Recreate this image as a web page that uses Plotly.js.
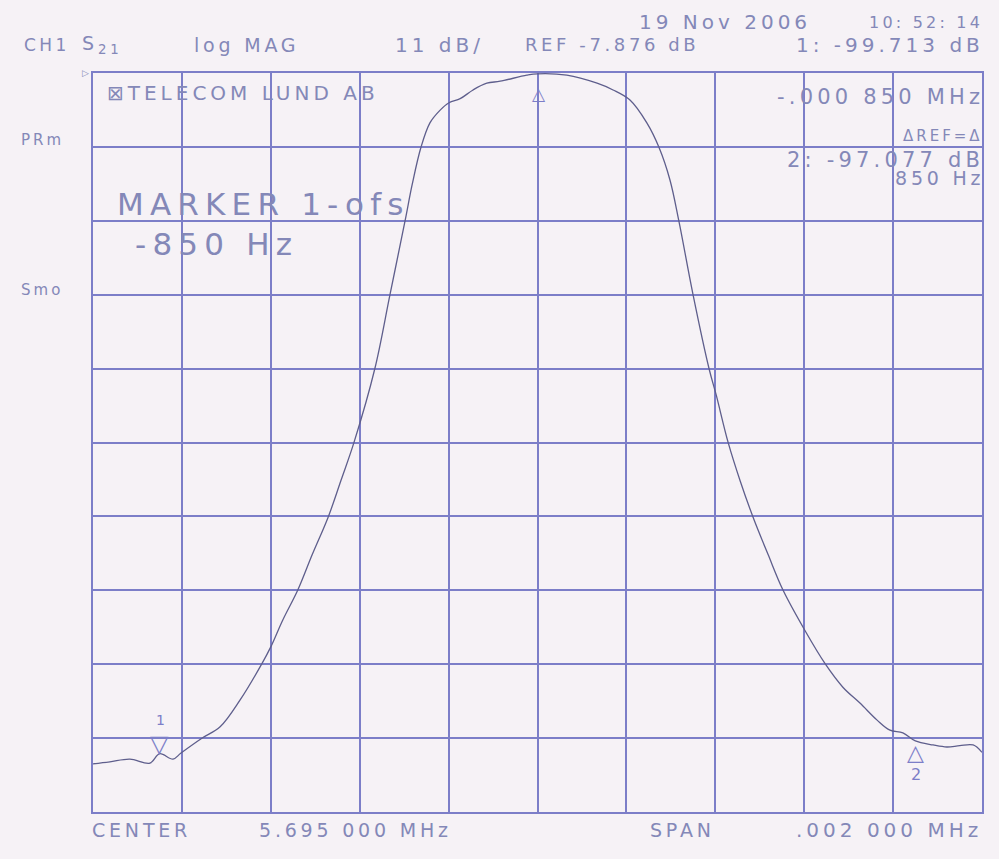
<!DOCTYPE html>
<html>
<head>
<meta charset="utf-8">
<script src="https://cdn.plot.ly/plotly-3.0.1.min.js"></script>
<style>
  html, body { margin: 0; padding: 0; background: #f6f2f6; }
  #chart { width: 999px; height: 859px; }
  text { letter-spacing: 0.2em; }
</style>
</head>
<body>
<div id="chart"></div>
<script>
// Frequency offset from centre (Hz); centre 5.695 000 MHz, span 2 kHz
const freqOffsetHz = [-1000, -962, -917, -872, -850, -820, -802, -755, -714, -669,
  -620, -600, -573, -539, -507, -471, -442, -413, -366, -332,
  -298, -282, -262, -242, -219, -199, -174, -145, -114, -84,
  -24, 0, 66, 134, 170, 208, 246, 273, 298, 318,
  350, 386, 402, 429, 456, 485, 519, 552, 602, 647,
  687, 726, 764, 793, 822, 850, 890, 921, 950, 980, 1000];
// S21 log magnitude (dB)
const s21Db = [-110.7, -110.4, -110.0, -110.6, -109.2, -110.0, -109.1, -106.9, -105.2, -101.2,
  -95.8, -93.3, -89.3, -84.8, -79.6, -74.0, -68.5, -62.9, -51.9, -40.9,
  -29.9, -24.5, -18.9, -15.3, -13.4, -12.3, -11.7, -10.4, -9.4, -9.1,
  -8.2, -8.0, -8.2, -9.4, -10.4, -11.9, -15.3, -18.9, -23.8, -29.9,
  -40.9, -51.9, -55.8, -62.9, -68.6, -74.0, -79.6, -84.8, -90.9, -95.8,
  -99.3, -101.7, -104.2, -105.7, -106.1, -107.3, -107.9, -108.2, -108.0, -107.9, -109.0];
// Markers: 1, delta reference, 2
const markerLabels = ["1", "Δ", "2"];
const markerHz = [-850, 0, 850];
const markerDb = [-109.2, -8.0, -107.3];
// Scale
const refLevelDb = -7.876;
const dbPerDiv = 11;
const divisions = 10;
const spanHz = 2000;

const gridColor = '#7c7ec8';
const textColor = '#8488b8';
const traceColor = '#5e5e8c';
const bg = '#f6f2f6';
const FONT = 'DejaVu Sans';
const LS = 0.2; // letter spacing in em (matches CSS)

const bottomDb = refLevelDb - dbPerDiv * divisions;

const trace = {
  x: freqOffsetHz, y: s21Db, type: 'scatter', mode: 'lines',
  line: { color: traceColor, width: 1.3, shape: 'spline', smoothing: 1 },
  hoverinfo: 'skip'
};

function txt(text, x, y, xanchor, size) {
  return {
    text: text, xref: 'paper', yref: 'paper', x: x, y: y,
    xanchor: xanchor, yanchor: 'middle', showarrow: false,
    xshift: xanchor === 'right' ? Math.round(LS * size) : 0,
    font: { family: FONT, size: size, color: textColor }
  };
}

const annotations = [
  txt('CH1', -0.0799, 1.0379, 'left', 17),
  txt('S<sub>21</sub>', -0.0146, 1.0379, 'left', 19),
  txt('log MAG', 0.1114, 1.0379, 'left', 19),
  txt('11 dB/', 0.3375, 1.0379, 'left', 20),
  txt('REF -7.876 dB', 0.4837, 1.0379, 'left', 18),
  txt('1: -99.713 dB', 1.0, 1.0379, 'right', 20),
  txt('19 Nov 2006', 0.6119, 1.069, 'left', 20),
  txt('10: 52: 14', 1.0, 1.069, 'right', 16),
  txt('PRm', -0.0834, 0.9093, 'left', 15),
  txt('Smo', -0.0834, 0.7064, 'left', 15),
  txt('⊠TELECOM LUND AB', 0.0135, 0.9729, 'left', 20),
  txt('-.000 850 MHz', 1.0, 0.9675, 'right', 21),
  txt('ΔREF=Δ', 1.0, 0.9147, 'right', 15),
  txt('2: -97.077 dB', 1.0, 0.8822, 'right', 21),
  txt('850 Hz', 1.0, 0.8580, 'right', 19),
  txt('MARKER 1-ofs', 0.0247, 0.8227, 'left', 31),
  txt('-850 Hz', 0.045, 0.7686, 'left', 31),
  txt('CENTER', -0.0034, -0.0244, 'left', 19),
  txt('5.695 000 MHz', 0.1845, -0.0244, 'left', 19),
  txt('SPAN', 0.6243, -0.0244, 'left', 19),
  txt('.002 000 MHz', 0.9978, -0.0244, 'right', 20),
  // reference level pointer
  { text: '▷', xref: 'paper', yref: 'y', x: 0, y: refLevelDb, xanchor: 'right', yanchor: 'middle',
    xshift: 0, showarrow: false, font: { family: FONT, size: 9, color: textColor } }
];

// marker glyphs, positioned at marker data values
annotations.push({ text: '▽', x: markerHz[0], y: markerDb[0], xref: 'x', yref: 'y',
  xanchor: 'center', yanchor: 'bottom', yshift: -6, xshift: 2, showarrow: false,
  font: { family: FONT, size: 24, color: gridColor } });
annotations.push({ text: markerLabels[0], x: markerHz[0], y: markerDb[0], xref: 'x', yref: 'y',
  xanchor: 'center', yanchor: 'bottom', yshift: 24, xshift: 2, showarrow: false,
  font: { family: FONT, size: 14, color: gridColor } });
annotations.push({ text: '△', x: markerHz[1], y: markerDb[1], xref: 'x', yref: 'y',
  xanchor: 'center', yanchor: 'top', yshift: -8, xshift: 2, showarrow: false,
  font: { family: FONT, size: 17, color: gridColor } });
annotations.push({ text: '△', x: markerHz[2], y: markerDb[2], xref: 'x', yref: 'y',
  xanchor: 'center', yanchor: 'top', yshift: 3, xshift: 2, showarrow: false,
  font: { family: FONT, size: 22, color: gridColor } });
annotations.push({ text: markerLabels[2], x: markerHz[2], y: markerDb[2], xref: 'x', yref: 'y',
  xanchor: 'center', yanchor: 'top', yshift: -22, xshift: 2, showarrow: false,
  font: { family: FONT, size: 16, color: gridColor } });

const layout = {
  width: 999, height: 859,
  margin: { l: 93, r: 17, t: 73, b: 47 },
  paper_bgcolor: bg, plot_bgcolor: bg,
  showlegend: false,
  xaxis: {
    range: [-spanHz / 2, spanHz / 2], tick0: -spanHz / 2, dtick: spanHz / divisions,
    showgrid: true, gridcolor: gridColor, gridwidth: 2,
    zeroline: false, showticklabels: false, ticks: '',
    showline: true, linecolor: gridColor, linewidth: 2, mirror: true
  },
  yaxis: {
    range: [bottomDb, refLevelDb], tick0: refLevelDb, dtick: dbPerDiv,
    showgrid: true, gridcolor: gridColor, gridwidth: 2,
    zeroline: false, showticklabels: false, ticks: '',
    showline: true, linecolor: gridColor, linewidth: 2, mirror: true
  },
  annotations: annotations
};

Plotly.newPlot('chart', [trace], layout, { displayModeBar: false, staticPlot: true });
</script>
</body>
</html>
